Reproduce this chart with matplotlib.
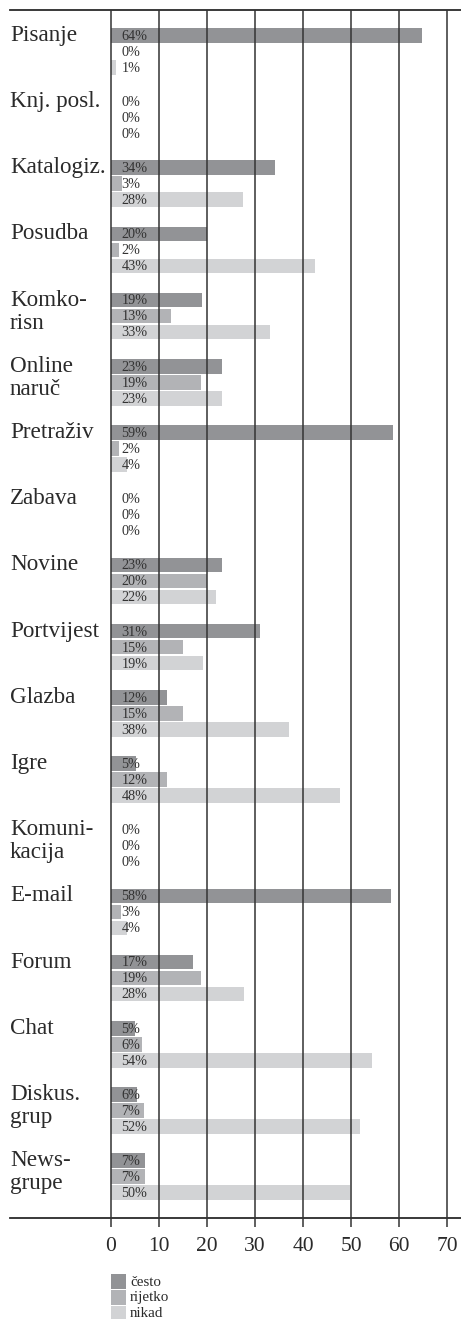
import matplotlib
matplotlib.use("Agg")
import matplotlib.pyplot as plt
from matplotlib.patches import Rectangle
import numpy as np

# ----- data -----
categories = ["Pisanje", "Knj. posl.", "Katalogiz.", "Posudba", "Komko-\nrisn",
              "Online\nnaruč", "Pretraživ", "Zabava", "Novine", "Portvijest",
              "Glazba", "Igre", "Komuni-\nkacija", "E-mail", "Forum", "Chat",
              "Diskus.\ngrup", "News-\ngrupe"]
cesto = [64.8, 0, 34.2, 20.0, 19.0, 23.1, 58.75, 0, 23.1, 31.0, 11.7, 5.2, 0,
         58.3, 17.1, 5.0, 5.4, 7.1]
rijetko = [0, 0, 2.3, 1.6, 12.5, 18.75, 1.6, 0, 19.9, 15.0, 15.0, 11.7, 0,
           2.1, 18.75, 6.5, 6.9, 7.1]
nikad = [1.0, 0, 27.6, 42.5, 33.1, 23.1, 3.3, 0, 21.9, 19.2, 37.1, 47.7, 0,
         3.3, 27.7, 54.4, 51.9, 49.8]
cesto_lbl = [64, 0, 34, 20, 19, 23, 59, 0, 23, 31, 12, 5, 0, 58, 17, 5, 6, 7]
rijetko_lbl = [0, 0, 3, 2, 13, 19, 2, 0, 20, 15, 15, 12, 0, 3, 19, 6, 7, 7]
nikad_lbl = [1, 0, 28, 43, 33, 23, 4, 0, 22, 19, 38, 48, 0, 4, 28, 54, 52, 50]
series_names = ["često", "rijetko", "nikad"]
xticks = [0, 10, 20, 30, 40, 50, 60, 70]

colors = ["#929396", "#b2b3b6", "#d2d3d5"]
ink = "#2a2a2a"
serif = "Liberation Serif"

W, H = 461, 1319
fig = plt.figure(figsize=(W / 100, H / 100), dpi=100)

# axes placed in pixel terms: top rule at y=10, axis line at y=1218
top_px, bot_px, left_px = 10, 1218.3, 10
ax = fig.add_axes([left_px / W, 1 - bot_px / H, 1 - left_px / W, (bot_px - top_px) / H])
px_per_unit = 4.8
zero_px = 111
ax.set_xlim((left_px - zero_px) / px_per_unit, (W - zero_px) / px_per_unit)
ax.set_ylim(bot_px, top_px)  # y data == pixel rows

group_pitch, bar_pitch, bar_h = 66.2, 16.0, 14.7
first_center = 35.3

for s, (vals, lbls) in enumerate([(cesto, cesto_lbl), (rijetko, rijetko_lbl), (nikad, nikad_lbl)]):
    ys = first_center + group_pitch * np.arange(len(categories)) + s * bar_pitch
    ax.barh(ys, vals, height=bar_h, color=colors[s], zorder=1, linewidth=0)
    for y, l in zip(ys, lbls):
        ax.text(2.2, y + 4.4, f"{l}%", fontsize=10.2, family=serif, color="#333333",
                ha="left", va="baseline", zorder=4)

# category labels, one line per text so the baselines follow the bars
for i, cat in enumerate(categories):
    y0 = first_center + group_pitch * i + 5.5
    for k, line in enumerate(cat.split("\n")):
        ax.text((left_px - zero_px) / px_per_unit, y0 + 23 * k, line, fontsize=16.7,
                family=serif, color=ink, ha="left", va="baseline", clip_on=False)

# grid + axis cosmetics
ax.set_xticks(xticks)
ax.set_yticks([])
ax.grid(axis="x", color="#333333", linewidth=1.1, zorder=3)
ax.set_axisbelow(False)
for side in ("left", "right"):
    ax.spines[side].set_visible(False)
for side in ("top", "bottom"):
    ax.spines[side].set_color(ink)
    ax.spines[side].set_linewidth(1.3)
ax.tick_params(axis="x", direction="out", length=6.2, width=1.1, color="#333333",
               pad=7, labelsize=15.5, labelcolor=ink)
for t in ax.get_xticklabels():
    t.set_family(serif)

# legend, drawn by hand below the axis
for k, name in enumerate(series_names):
    y_top = 1274.3 + 15.8 * k
    fig.patches.append(Rectangle((zero_px / W, 1 - (y_top + 14.8) / H), 15 / W, 14.8 / H,
                                 transform=fig.transFigure, facecolor=colors[k],
                                 edgecolor="none"))
    fig.text(130 / W, 1 - (y_top + 11.3) / H, name, fontsize=10.8, family=serif,
             color=ink, ha="left", va="baseline")

fig.savefig("out.png", dpi=100)
